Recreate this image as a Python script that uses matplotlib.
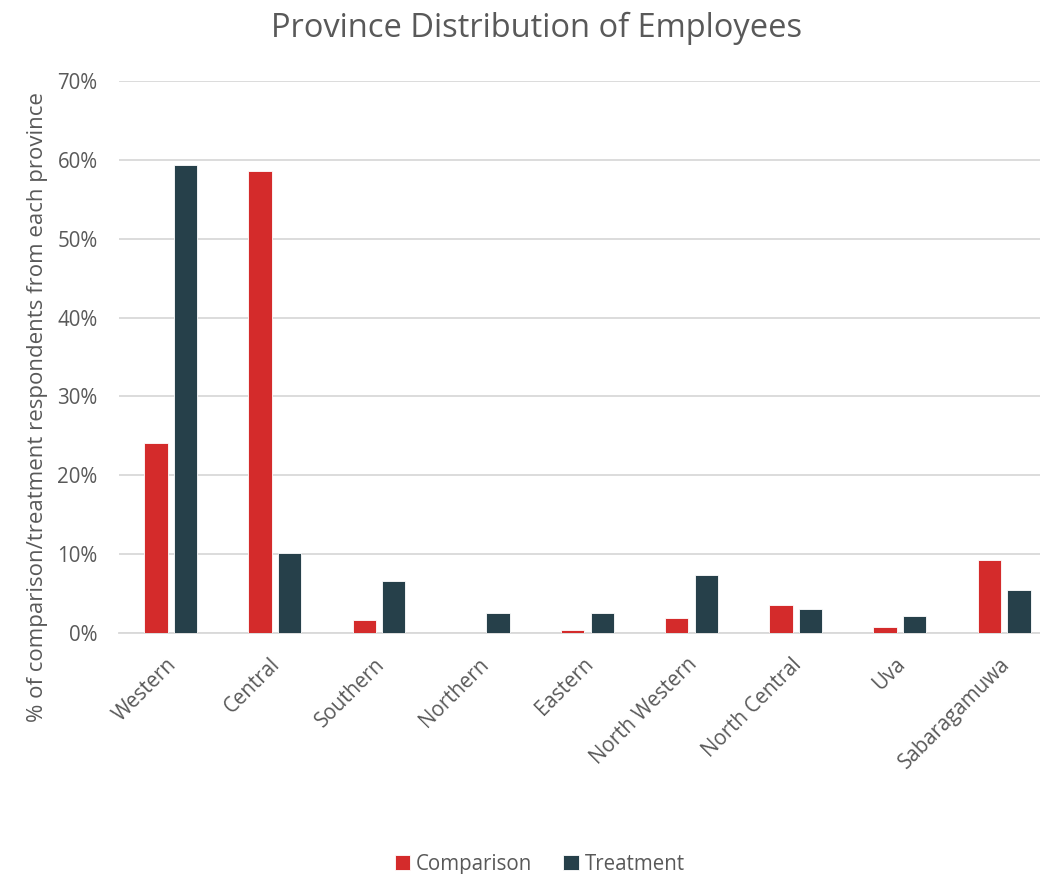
import numpy as np
import matplotlib.pyplot as plt
import matplotlib.transforms as mtransforms
from matplotlib.ticker import PercentFormatter

# province shares (%) for each group
provinces = ['Western', 'Central', 'Southern', 'Northern', 'Eastern',
             'North Western', 'North Central', 'Uva', 'Sabaragamuwa']
comparison = [24.1, 58.6, 1.6, 0.0, 0.4, 1.9, 3.5, 0.8, 9.3]
treatment = [59.4, 10.2, 6.6, 2.6, 2.6, 7.3, 3.0, 2.2, 5.5]

plt.rcParams['font.family'] = ['Open Sans', 'DejaVu Sans']
grey = '#595959'

fig = plt.figure(figsize=(10.4, 8.74), dpi=100)
# plot area runs past the right edge, as in the original export
ax = fig.add_axes([0.114, 0.2757, 0.9016, 0.6316])

x = np.arange(len(provinces))
w = 0.224
gap = 0.06
ax.bar(x - (w + gap) / 2, comparison, w, color='#D42B2B', edgecolor='white',
       linewidth=0.6, label='Comparison', zorder=3)
ax.bar(x + (w + gap) / 2, treatment, w, color='#26404A', edgecolor='white',
       linewidth=0.6, label='Treatment', zorder=3)

ax.set_xlim(-0.5, len(provinces) - 0.5)
ax.set_ylim(0, 70)
ax.set_yticks(np.arange(0, 71, 10))
ax.yaxis.set_major_formatter(PercentFormatter(decimals=0))
ax.grid(axis='y', color='#D9D9D9', linewidth=1.3, zorder=0)
for s in ['top', 'right', 'left']:
    ax.spines[s].set_visible(False)
ax.spines['bottom'].set_color('#D9D9D9')
ax.spines['bottom'].set_linewidth(1.3)
ax.tick_params(axis='both', length=0, colors=grey, labelsize=14.8)
ax.tick_params(axis='y', pad=15)

ax.set_xticks(x)
ax.set_xticklabels(provinces, rotation=45, ha='right', rotation_mode='anchor')
ax.tick_params(axis='x', pad=15)
# nudge the rotated labels slightly left
shift = mtransforms.ScaledTranslation(-5 / 100, 0, fig.dpi_scale_trans)
for lab in ax.get_xticklabels():
    lab.set_transform(lab.get_transform() + shift)

ax.set_ylabel('% of comparison/treatment respondents from each province',
              color=grey, fontsize=16)
ax.yaxis.set_label_coords(-0.075, 0.41)

fig.text(0.516, 0.968, 'Province Distribution of Employees', color=grey,
         fontsize=23.5, ha='center', va='center')

fig.legend(loc='lower center', ncol=2, bbox_to_anchor=(0.519, -0.022),
           frameon=False, fontsize=14.8, labelcolor=grey, handlelength=0.75,
           handleheight=0.75, handletextpad=0.3, columnspacing=1.5)

fig.savefig('out.png', dpi=100)
